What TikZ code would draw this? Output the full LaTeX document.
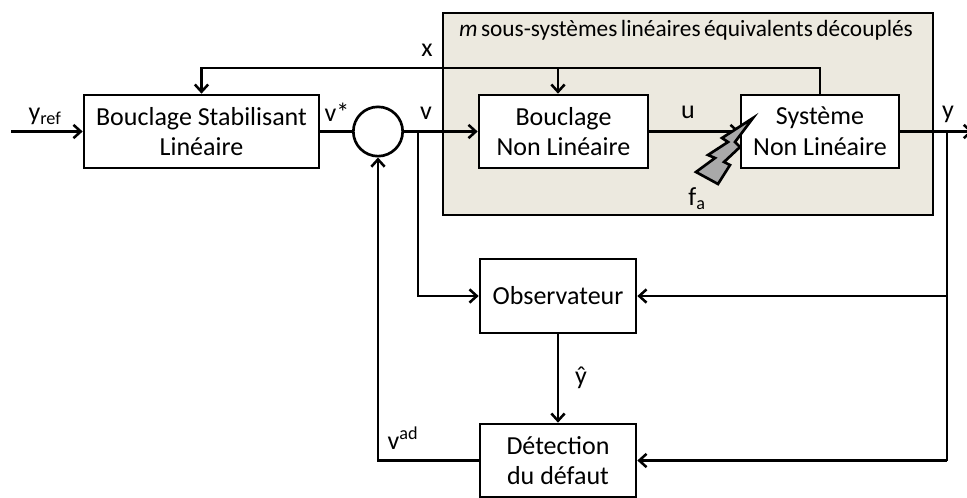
\documentclass[tikz,border=0pt]{standalone}
\usepackage{fontspec}
\setmainfont{Carlito}
\usetikzlibrary{arrows.meta}
\definecolor{panelbeige}{HTML}{ECE9DF}
\definecolor{boltgray}{HTML}{A9A9A9}
\tikzset{
  blockbox/.style={draw,line width=2pt,fill=white,align=center,inner sep=0pt,font=\fontsize{19.5}{23}\selectfont},
  label/.style={font=\fontsize{19.5}{22}\selectfont,inner sep=0pt},
  link/.style={line width=2pt,-{Straight Barb[length=5.5pt,width=10pt,line width=1.9pt]}},
  wire/.style={line width=2pt}
}
\begin{document}
\begin{tikzpicture}[x=0.75pt,y=-0.75pt]
    \useasboundingbox (0,0) rectangle (967,497);
    \clip (0,0) rectangle (967,497);

    % panel of the decoupled subsystems
    \node[draw,line width=2pt,fill=panelbeige,minimum width=367.5pt,minimum height=151.5pt,inner sep=0pt] (panel) at (688,114) {};
    \node[label,font=\fontsize{17.5}{20}\selectfont] (paneltitle) at (686,30) {\spaceskip=0.15em \textit{m} sous-systèmes linéaires équivalents découplés};

    % blocks
    \node[blockbox,minimum width=176.25pt,minimum height=54.75pt] (stab) at (201.5,131.5) {Bouclage Stabilisant\\Linéaire};
    \node[draw,circle,line width=2pt,fill=white,minimum size=37pt,inner sep=0pt] (sum) at (378,131.5) {};
    \node[blockbox,minimum width=126.75pt,minimum height=54.75pt] (bnl) at (563.5,131.5) {Bouclage\\Non Linéaire};
    \node[blockbox,minimum width=118.5pt,minimum height=54.75pt] (sys) at (820,131.5) {Système\\Non Linéaire};
    \node[blockbox,minimum width=117pt,minimum height=55.5pt] (obs) at (558,296) {Observateur};
    \node[blockbox,minimum width=117pt,minimum height=54.75pt] (det) at (558,460.5) {Détection\\du défaut};

    % free ends and branch points
    \coordinate (yin) at (11,131.5);
    \coordinate (yout) at (973,131.5);
    \coordinate (ybranch) at (947,131.5);
    \coordinate (vbranch) at (418,131.5);
    \coordinate (xright) at (sys.north |- 0,68);
    \coordinate (xleft) at (stab.north |- 0,68);
    \coordinate (xtap) at (558,68);

    % connectors
    \draw[link] (yin) -- (stab.west);
    \draw[wire] (stab.east) -- (sum.west);
    \draw[link] (sum.east) -- (bnl.west);
    \draw[link] (bnl.east) -- (sys.west);
    \draw[link] (sys.east) -- (yout);
    \draw[link] (sys.north) -- (xright) -- (xleft) -- (stab.north);
    \draw[link] (xtap) -- (xtap |- bnl.north);
    \draw[link] (vbranch) -- (vbranch |- obs) -- (obs.west);
    \draw[wire] (ybranch) -- (ybranch |- det);
    \draw[link] (ybranch |- obs) -- (obs.east);
    \draw[link] (ybranch |- det) -- (det.east);
    \draw[link] (obs.south) -- (det.north);
    \draw[link] (det.west) -- (sum.south |- det) -- (sum.south);

    % fault bolt
    \draw[line width=2pt,fill=boltgray,line join=miter] (753,118) -- (722,138) -- (728,142) -- (708,155) -- (715,158) -- (696,172) -- (718,184) -- (730,165) -- (724,162) -- (740,147) -- (735,142) -- cycle;

    % labels
    \node[label] (lyref) at (45,116) {y\textsubscript{ref}};
    \node[label] (lvstar) at (337,112) {v*};
    \node[label] (lv) at (426,113) {v};
    \node[label] (lx) at (427,50) {x};
    \node[label] (lu) at (688,112) {u};
    \node[label] (ly) at (948,114) {y};
    \node[label] (lfa) at (697,199) {f\textsubscript{a}};
    \node[label] (lyhat) at (581,378) {ŷ};
    \node[label] (lvad) at (403,438) {v\textsuperscript{ad}};
\end{tikzpicture}
\end{document}
